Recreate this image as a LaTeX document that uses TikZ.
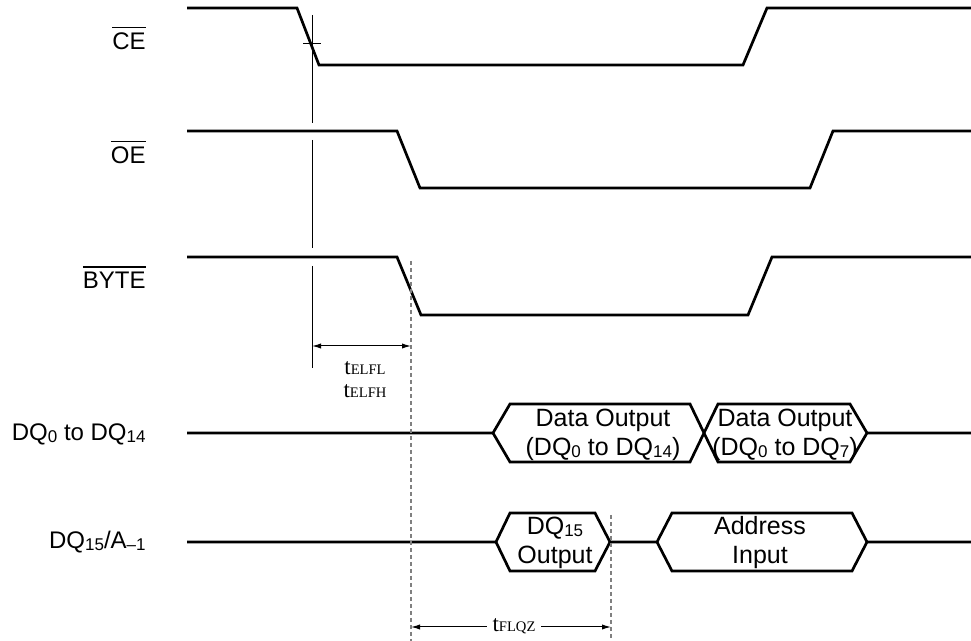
\documentclass[tikz,border=0pt]{standalone}
\usepackage{fontspec}
\setmainfont{Liberation Sans}
\newfontfamily\timesfont{Liberation Serif}
\usetikzlibrary{arrows.meta}

\newcommand{\sub}[1]{\raisebox{-1pt}{\fontsize{8.5}{9}\selectfont #1}}
\newcommand{\ovl}[1]{\leavevmode\vbox{\hrule height 0.6pt\kern 2.4pt\hbox{#1}}}
\newcommand{\tpar}[1]{{\timesfont\fontsize{11.5}{12}\selectfont t\fontsize{7.3}{8}\selectfont #1}}

\tikzset{
    sig/.style={line width=1.35pt},
    guide/.style={line width=0.5pt},
    dashguide/.style={gray, line width=0.8pt, dash pattern=on 2pt off 1.5pt},
    dim/.style={line width=0.5pt, {Latex[length=4.5pt,width=2.6pt]}-{Latex[length=4.5pt,width=2.6pt]}},
    signame/.style={anchor=base east, inner sep=0pt, font=\fontsize{12}{14}\selectfont},
    bustext/.style={align=center, inner sep=0pt, font=\fontsize{12.5}{14.5}\selectfont},
    timetext/.style={inner sep=0pt}
}

\begin{document}
\begin{tikzpicture}[x=0.5pt, y=-0.5pt]
        \useasboundingbox (0,0) rectangle (971,641);

        % signal names
        \node[signame] (ce) at (146,50) {\ovl{CE}};
        \node[signame] (oe) at (146,164) {\ovl{OE}};
        \node[signame] (byte) at (146,289) {\ovl{BYTE}};
        \node[signame] (dqlo) at (146,441) {DQ\sub{0} to DQ\sub{14}};
        \node[signame] (dqhi) at (146,549) {DQ\sub{15}/A\sub{--1}};

        % control waveforms
        \draw[sig] (187,8) -- (297,8) -- (319,65) -- (743,65) -- (767,8) -- (971,8);
        \draw[sig] (187,131) -- (397,131) -- (420,188) -- (810,188) -- (833,131) -- (971,131);
        \draw[sig] (187,257) -- (397,257) -- (421,315) -- (748,315) -- (772,257) -- (971,257);

        % DQ0 to DQ14 bus
        \draw[sig] (187,433) -- (493,433) -- (510,404) -- (690,404) -- (718,462) -- (850,462) -- (867,433) -- (971,433);
        \draw[sig] (493,433) -- (510,462) -- (690,462) -- (718,404) -- (850,404) -- (867,433);
        \node[bustext] (dout1) at (603,435) {Data Output\\(DQ\sub{0} to DQ\sub{14})};
        \node[bustext] (dout2) at (785,435) {Data Output\\(DQ\sub{0} to DQ\sub{7})};

        % DQ15/A-1 bus
        \draw[sig] (187,542) -- (496,542) -- (510,513) -- (595,513) -- (610,542) -- (657,542) -- (672,513) -- (852,513) -- (867,542) -- (971,542);
        \draw[sig] (496,542) -- (510,571) -- (595,571) -- (610,542);
        \draw[sig] (657,542) -- (672,571) -- (852,571) -- (867,542);
        \node[bustext] (dq15out) at (555,543) {DQ\sub{15}\\Output};
        \node[bustext] (addrin) at (760,543) {Address\\Input};

        % reference line at CE falling edge
        \draw[guide] (303,44) -- (321,44);
        \draw[guide] (312,15) -- (312,123);
        \draw[guide] (312,140) -- (312,248);
        \draw[guide] (312,266) -- (312,368);

        % dashed lines
        \draw[dashguide] (411,261) -- (411,641);
        \draw[dashguide] (611,515) -- (611,641);

        % tELFL / tELFH
        \coordinate (elfa) at (312,346);
        \coordinate (elfb) at (411,346);
        \draw[dim] (elfa) -- (elfb);
        \node[timetext] (telfl) at (365,368) {\tpar{ELFL}};
        \node[timetext] (telfh) at (365,391) {\tpar{ELFH}};

        % tFLQZ
        \coordinate (flqa) at (411,627);
        \coordinate (flqb) at (611,627);
        \draw[dim] (flqa) -- (flqb);
        \node[fill=white, inner xsep=3pt, inner ysep=1pt] (tflqz) at (514,626) {\tpar{FLQZ}};
\end{tikzpicture}
\end{document}
